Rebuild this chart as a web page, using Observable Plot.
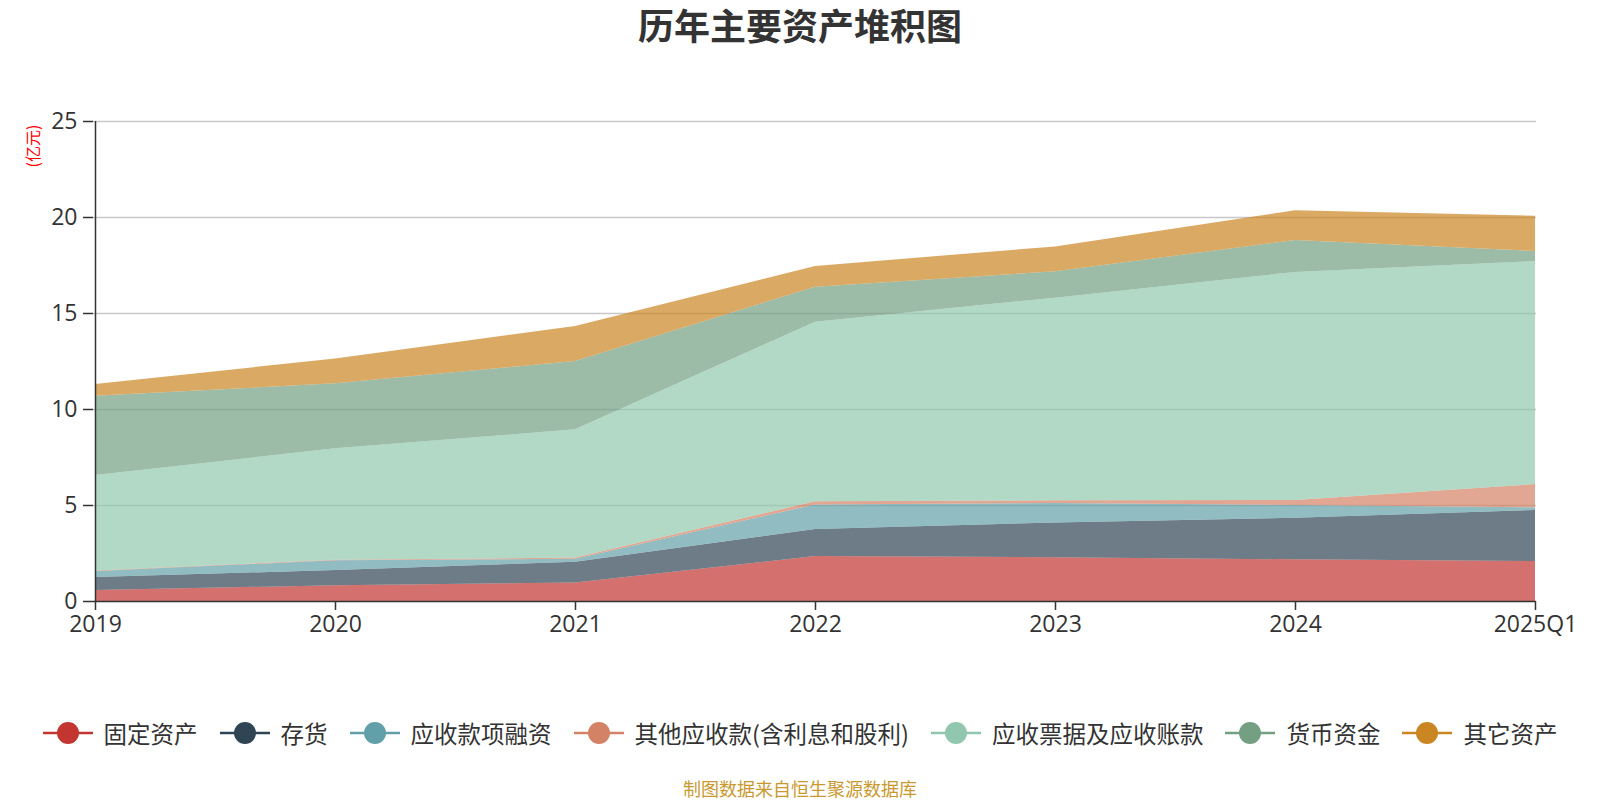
<!DOCTYPE html>
<html>
<head>
<meta charset="utf-8">
<script src="https://cdn.jsdelivr.net/npm/d3@7"></script>
<script src="https://cdn.jsdelivr.net/npm/@observablehq/plot@0.6"></script>
<style>
  html, body { margin: 0; padding: 0; background: #fff; }
  body { width: 1600px; height: 800px; position: relative; overflow: hidden;
         font-family: "Noto Sans CJK SC", "Noto Sans", sans-serif; color: #333; }
  #chart { position: absolute; left: 0; top: 0; }
  #title { position: absolute; left: 0; width: 1600px; top: 3px; text-align: center;
           font-size: 36px; font-weight: bold; color: #333; line-height: 42px; }
  #ylabel { position: absolute; left: 32px; top: 146px; transform: translate(-50%, -50%) rotate(-90deg);
            color: #ff0000; font-size: 16px; white-space: nowrap; }
  #legend { position: absolute; left: 0; width: 1600px; top: 716px; display: flex;
            justify-content: center; align-items: center; gap: 22px; }
  .item { display: flex; align-items: center; gap: 11px; font-size: 23.5px; color: #333; line-height: 34px; }
  .item svg { display: block; }
  #footer { position: absolute; left: 0; width: 1600px; top: 776px; text-align: center;
            font-size: 18px; color: #c9992f; line-height: 24px; }
</style>
</head>
<body>
<div id="chart"></div>
<div id="title">历年主要资产堆积图</div>
<div id="ylabel">(亿元)</div>
<div id="legend"></div>
<div id="footer">制图数据来自恒生聚源数据库</div>
<script>
const years = ["2019", "2020", "2021", "2022", "2023", "2024", "2025Q1"];
const seriesNames = ["固定资产", "存货", "应收款项融资", "其他应收款(含利息和股利)", "应收票据及应收账款", "货币资金", "其它资产"];
const seriesColors = ["#c23531", "#2f4554", "#61a0a8", "#d48265", "#91c7ae", "#749f83", "#ca8622"];

const fixedAssets   = [0.57, 0.82, 0.97, 2.34, 2.28, 2.17, 2.08];
const inventory     = [0.68, 0.79, 1.08, 1.41, 1.81, 2.17, 2.66];
const receivableFin = [0.31, 0.51, 0.15, 1.28, 1.01, 0.66, 0.14];
const otherRecv     = [0.03, 0.03, 0.06, 0.16, 0.15, 0.26, 1.21];
const notesAccounts = [4.97, 5.80, 6.68, 9.36, 10.55, 11.88, 11.62];
const cash          = [4.13, 3.39, 3.56, 1.82, 1.37, 1.66, 0.52];
const otherAssets   = [0.61, 1.29, 1.82, 1.08, 1.30, 1.55, 1.84];

const yTicks = [0, 5, 10, 15, 20, 25];

const seriesValues = [fixedAssets, inventory, receivableFin, otherRecv, notesAccounts, cash, otherAssets];
const rows = [];
seriesNames.forEach((name, i) => {
  years.forEach((yr, j) => rows.push({series: name, year: yr, value: seriesValues[i][j]}));
});

const tickFont = '"Open Sans", "Noto Sans", sans-serif';

const chart = Plot.plot({
  width: 1600,
  height: 800,
  marginTop: 121,
  marginBottom: 199,
  marginLeft: 93,
  marginRight: 64,
  style: {fontFamily: '"Noto Sans CJK SC", "Noto Sans", sans-serif', color: "#333", background: "transparent"},
  x: {type: "point", domain: years, padding: 0, label: null},
  y: {domain: [0, 25], label: null},
  color: {domain: seriesNames, range: seriesColors},
  marks: [
    Plot.gridY(yTicks.filter(d => d > 0), {stroke: "#c8c8c8", strokeOpacity: 1, strokeWidth: 1.5}),
    Plot.areaY(rows, {x: "year", y: "value", fill: "series", fillOpacity: 0.7, order: seriesNames, curve: "linear"}),
    Plot.ruleY([0], {stroke: "#333", strokeWidth: 1.5}),
    Plot.ruleX([years[0]], {stroke: "#333", strokeWidth: 1.5}),
    Plot.axisY(yTicks, {tickSize: 10, tickPadding: 6, fontSize: 23, fontFamily: tickFont, stroke: "#333", strokeWidth: 1.5, label: null}),
    Plot.axisX(years, {tickSize: 9, tickPadding: 5, fontSize: 23, fontFamily: tickFont, stroke: "#333", strokeWidth: 1.5, label: null})
  ]
});
document.getElementById("chart").appendChild(chart);

const legend = document.getElementById("legend");
seriesNames.forEach((name, i) => {
  const item = document.createElement("div");
  item.className = "item";
  const c = seriesColors[i];
  item.innerHTML = `<svg width="50" height="24"><line x1="0" y1="12" x2="50" y2="12" stroke="${c}" stroke-width="2.5"/><circle cx="25" cy="12" r="11" fill="${c}"/></svg><span>${name}</span>`;
  legend.appendChild(item);
});
</script>
</body>
</html>
